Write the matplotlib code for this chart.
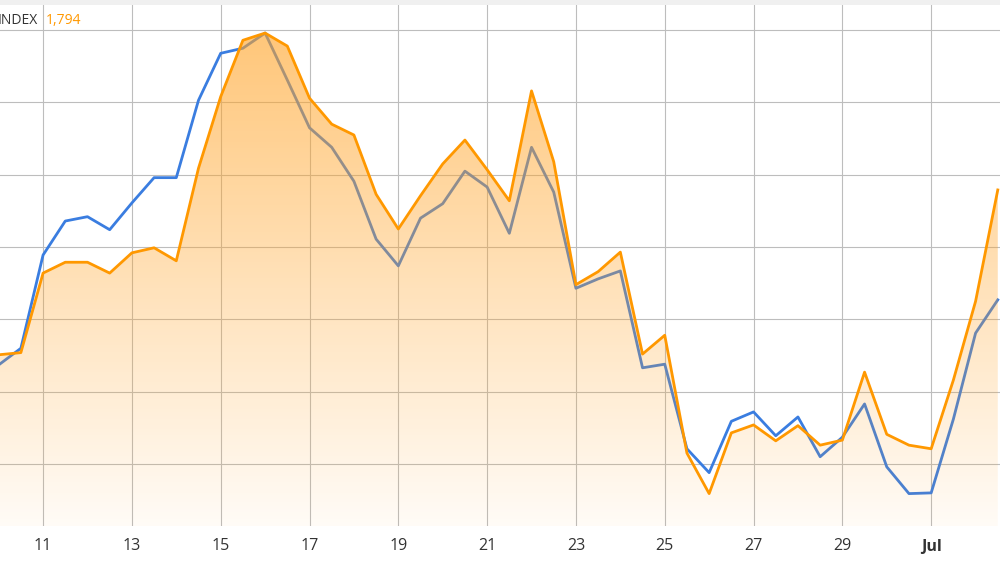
import numpy as np
import matplotlib
matplotlib.use("Agg")
import matplotlib.pyplot as plt
from matplotlib.patches import Polygon

# day index (June days, 31 = Jul 1), half-day steps
days = [10 + 0.5 * i for i in range(46)]
orange = [1251,1254,1364,1379,1379,1364,1392,1399,1381,1509,1608,1686,1696,1678,1606,1570,
          1555,1473,1425,1471,1515,1548,1507,1464,1616,1518,1348,1366,1393,1252,1278,1115,
          1059,1143,1154,1132,1153,1126,1133,1227,1141,1126,1121,1216,1325,1479]
blue = [1237,1260,1389,1436,1442,1424,1461,1496,1496,1603,1668,1675,1696,1631,1565,1538,
        1491,1411,1374,1440,1460,1505,1483,1419,1538,1476,1343,1356,1367,1233,1238,1121,
        1088,1159,1172,1139,1165,1110,1137,1183,1096,1059,1060,1162,1281,1327]
tick_pos = [11, 13, 15, 17, 19, 21, 23, 25, 27, 29, 31]
tick_labels = ["11", "13", "15", "17", "19", "21", "23", "25", "27", "29", "Jul"]
y_grid = [1100, 1200, 1300, 1400, 1500, 1600, 1700]

fig = plt.figure(figsize=(10, 5.71), dpi=100)
fig.patch.set_facecolor("white")
ax = fig.add_axes([0, 45/571, 1, 521/571])
ymin, ymax = 1014.2, 1100 + (464 - 5) * 1.383
xmin, xmax = 10.03, 32.55
ax.set_xlim(xmin, xmax)
ax.set_ylim(ymin, ymax)
for s in ax.spines.values():
    s.set_visible(False)

ax.set_xticks(tick_pos)
ax.set_xticklabels(tick_labels, fontsize=11.5, color="#333333", family="Open Sans")
for lab in ax.get_xticklabels():
    if lab.get_text() == "Jul":
        lab.set_fontweight("bold")
ax.set_yticks(y_grid)
ax.set_yticklabels([])
ax.tick_params(length=0, pad=9)
ax.grid(True, color="#bdbdbd", linewidth=0.8, zorder=0)

ax.plot(days, blue, color="#3a7de0", linewidth=2, zorder=2)

n = 256
img = np.zeros((n, 1, 4))
img[:, 0, 0] = 1.0
img[:, 0, 1] = 0.64
img[:, 0, 2] = 0.15
img[:, 0, 3] = np.linspace(0.04, 0.62, n)
im = ax.imshow(img, extent=[xmin, xmax, ymin, 1700], origin="lower", aspect="auto", zorder=3)
poly = Polygon(list(zip(days, orange)) + [(days[-1], ymin), (days[0], ymin)],
               closed=True, transform=ax.transData, facecolor="none", edgecolor="none")
ax.add_patch(poly)
im.set_clip_path(poly)
ax.plot(days, orange, color="#ff9800", linewidth=2, zorder=4)

fig.patches.append(matplotlib.patches.Rectangle((0, 1 - 5/571), 1, 5/571, transform=fig.transFigure,
                                                 facecolor="#f0f0f0", edgecolor="none"))
fig.text(-0.002, 1 - 20/571, "INDEX", fontsize=10, color="#333333", va="center", family="Open Sans")
fig.text(0.046, 1 - 20/571, "1,794", fontsize=10, color="#ff9800", va="center", family="Open Sans")

fig.savefig("out.png", dpi=100)
